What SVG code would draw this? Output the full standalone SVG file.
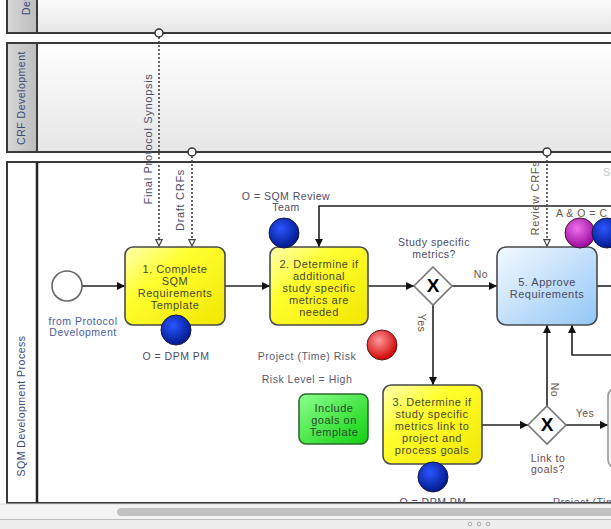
<svg xmlns="http://www.w3.org/2000/svg" width="611" height="529" viewBox="0 0 611 529">
<defs>
<linearGradient id="laneBg" x1="0" y1="0" x2="0" y2="1"><stop offset="0" stop-color="#ffffff"/><stop offset="1" stop-color="#e6e6e6"/></linearGradient>
<linearGradient id="hdrBg" x1="0" y1="0" x2="1" y2="0"><stop offset="0" stop-color="#d6d6d6"/><stop offset="1" stop-color="#bdbdbd"/></linearGradient>
<linearGradient id="yellow" x1="0" y1="0" x2="1" y2="1"><stop offset="0" stop-color="#ffffb0"/><stop offset="0.35" stop-color="#ffff30"/><stop offset="1" stop-color="#f2e600"/></linearGradient>
<linearGradient id="blueTask" x1="0" y1="0" x2="1" y2="1"><stop offset="0" stop-color="#f4faff"/><stop offset="1" stop-color="#92c6f6"/></linearGradient>
<linearGradient id="green" x1="0" y1="0" x2="1" y2="1"><stop offset="0" stop-color="#8cff8c"/><stop offset="1" stop-color="#10d010"/></linearGradient>
<radialGradient id="blueBall" cx="0.4" cy="0.35" r="0.65"><stop offset="0" stop-color="#2a55ff"/><stop offset="1" stop-color="#001a8c"/></radialGradient>
<radialGradient id="redBall" cx="0.4" cy="0.35" r="0.65"><stop offset="0" stop-color="#ff9a9a"/><stop offset="1" stop-color="#d00000"/></radialGradient>
<radialGradient id="purpleBall" cx="0.4" cy="0.35" r="0.65"><stop offset="0" stop-color="#ee70ee"/><stop offset="1" stop-color="#9a0a9a"/></radialGradient>
<marker id="arr" viewBox="0 0 10 10" refX="10" refY="5" markerWidth="9" markerHeight="8" markerUnits="userSpaceOnUse" orient="auto"><path d="M0,0 L10,5 L0,10 z" fill="#111"/></marker>
<marker id="openArr" viewBox="0 0 10 10" refX="9" refY="5" markerWidth="8" markerHeight="8" markerUnits="userSpaceOnUse" orient="auto"><path d="M1,1 L9,5 L1,9 z" fill="#fff" stroke="#444" stroke-width="1.5"/></marker>
<clipPath id="lane3clip"><rect x="0" y="0" width="611" height="503"/></clipPath>
</defs>
<style>
text{font-family:"Liberation Sans",Arial,sans-serif;font-size:10.5px;letter-spacing:0.5px;}
.tk{font-size:11px;fill:#4a4a30;text-anchor:middle;}
.lbl{fill:#4d4d66;text-anchor:middle;}
.blue{fill:#4a5c9e;}
.hdr{fill:#3c4a7a;font-size:10.5px;text-anchor:middle;}
.lane{stroke:#3a3a3a;stroke-width:2;}
.seq{fill:none;stroke:#222;stroke-width:1.6;marker-end:url(#arr);}
.seqn{fill:none;stroke:#222;stroke-width:1.6;}
.msg{fill:none;stroke:#444;stroke-width:1.6;stroke-dasharray:2 2;marker-end:url(#openArr);}
.msgdot{fill:#fff;stroke:#333;stroke-width:1.5;}
.gw{fill:#fff;stroke:#777;stroke-width:1.6;}
.task{stroke:#4a4a4a;stroke-width:1.6;}
</style>
<rect x="0" y="0" width="611" height="529" fill="#ffffff"/>

<g id="lane-protocol">
<rect x="7" y="-5" width="620" height="38" fill="url(#laneBg)" class="lane"/>
<rect x="7" y="-5" width="30" height="38" fill="url(#hdrBg)" class="lane"/>
<text class="hdr" transform="translate(30,15) rotate(-90)" text-anchor="start" style="text-anchor:start">Dev</text>
</g>

<g id="lane-crf">
<rect x="7" y="43" width="620" height="109" fill="url(#laneBg)" class="lane"/>
<rect x="7" y="43" width="30" height="109" fill="url(#hdrBg)" class="lane"/>
<text class="hdr" transform="translate(25,98) rotate(-90)">CRF Development</text>
</g>

<g id="lane-sqm">
<rect x="7" y="162" width="620" height="341" fill="#ffffff" class="lane"/>
<line x1="37" y1="162" x2="37" y2="503" stroke="#222" stroke-width="2.5"/>
<text class="hdr" transform="translate(25,406) rotate(-90)">SQM Development Process</text>
<text x="603" y="176" fill="#c8c8c8" style="font-size:11px">S</text>
</g>

<g id="connectors">
<path class="seq" d="M82,286 L125,286"/>
<path class="seq" d="M225,286 L270,286"/>
<path class="seq" d="M368,286 L414,286"/>
<path class="seq" d="M452,286 L497,286"/>
<path class="seq" d="M611,206 L319,206 L319,247"/>
<path class="seq" d="M433,305 L433,385"/>
<path class="seq" d="M482,425 L528,425"/>
<path class="seq" d="M547,406 L547,325"/>
<path class="seq" d="M611,355 L572,355 L572,325"/>
<path class="seq" d="M566,425 L608,425"/>
<path class="seqn" d="M597,286 L611,286"/>
<path class="msg" d="M159,37 L159,246"/>
<path class="msg" d="M192,156 L192,246"/>
<path class="msg" d="M547,156 L547,246"/>
<circle class="msgdot" cx="159" cy="33" r="4"/>
<circle class="msgdot" cx="192" cy="152" r="4"/>
<circle class="msgdot" cx="547" cy="152" r="4"/>
<text class="lbl" transform="translate(152,139) rotate(-90)" style="font-size:11px;letter-spacing:0.7px">Final Protocol Synopsis</text>
<text class="lbl" transform="translate(184,200) rotate(-90)" style="font-size:11px;letter-spacing:0.7px">Draft CRFs</text>
<text class="lbl" transform="translate(539,198) rotate(-90)" style="font-size:11px;letter-spacing:0.7px;fill:#6a5a4a">Review CRFs</text>
<text class="lbl" x="481" y="278" style="fill:#6a5a4a">No</text>
<text class="lbl" transform="translate(418,323) rotate(90)" style="fill:#6a5a4a">Yes</text>
<text class="lbl" transform="translate(551,390) rotate(90)" style="fill:#6a5a4a">No</text>
<text class="lbl" x="585" y="417" style="fill:#6a5a4a">Yes</text>
</g>

<g id="start">
<circle cx="67" cy="286" r="15" fill="#fff" stroke="#666" stroke-width="1.6"/>
<text class="lbl blue" x="83" y="325" style="fill:#4a5c9e">from Protocol</text>
<text class="lbl blue" x="83" y="336" style="fill:#4a5c9e">Development</text>
</g>

<g id="task1">
<rect x="125" y="247" width="100" height="78" rx="8" fill="url(#yellow)" class="task"/>
<text class="tk" x="175" y="273">1. Complete</text>
<text class="tk" x="175" y="285">SQM</text>
<text class="tk" x="175" y="297">Requirements</text>
<text class="tk" x="175" y="309">Template</text>
<circle cx="176" cy="330" r="15" fill="url(#blueBall)" stroke="#1a1a40" stroke-width="1"/>
<text class="lbl" x="176" y="360">O = DPM PM</text>
</g>

<g id="task2">
<rect x="270" y="247" width="98" height="78" rx="8" fill="url(#yellow)" class="task"/>
<text class="tk" x="319" y="268">2. Determine if</text>
<text class="tk" x="319" y="280">additional</text>
<text class="tk" x="319" y="292">study specific</text>
<text class="tk" x="319" y="304">metrics are</text>
<text class="tk" x="319" y="316">needed</text>
<circle cx="284" cy="233" r="15" fill="url(#blueBall)" stroke="#1a1a40" stroke-width="1"/>
<text class="lbl" x="286" y="200">O = SQM Review</text>
<text class="lbl" x="286" y="211">Team</text>
</g>

<g id="gateway1">
<path class="gw" d="M433,267 L452,286 L433,305 L414,286 z"/>
<text x="433" y="292" style="font-size:19px;font-weight:bold;text-anchor:middle;letter-spacing:0" fill="#000">X</text>
<text class="lbl" x="434" y="246">Study specific</text>
<text class="lbl" x="434" y="258">metrics?</text>
</g>

<g id="task5">
<rect x="497" y="247" width="100" height="78" rx="9" fill="url(#blueTask)" class="task"/>
<text class="tk" x="547" y="286" style="fill:#4a4a60">5. Approve</text>
<text class="tk" x="547" y="298" style="fill:#4a4a60">Requirements</text>
<circle cx="580" cy="233" r="15" fill="url(#purpleBall)" stroke="#3a1a3a" stroke-width="1"/>
<circle cx="607" cy="233" r="15" fill="url(#blueBall)" stroke="#1a1a40" stroke-width="1"/>
<text x="556" y="217" fill="#6a5a4a">A &amp; O = C</text>
</g>

<g id="risk">
<circle cx="382" cy="345" r="15" fill="url(#redBall)" stroke="#5a1a1a" stroke-width="1"/>
<text class="lbl" x="307" y="360" style="fill:#5a5a70">Project (Time) Risk</text>
<text class="lbl" x="307" y="383" style="fill:#5a5a70">Risk Level = High</text>
</g>

<g id="goals-note">
<rect x="299" y="394" width="69" height="50" rx="7" fill="url(#green)" stroke="#2f6a2f" stroke-width="1.6"/>
<text class="tk" x="334" y="412" style="fill:#2a4a2a">Include</text>
<text class="tk" x="334" y="424" style="fill:#2a4a2a">goals on</text>
<text class="tk" x="334" y="436" style="fill:#2a4a2a">Template</text>
</g>

<g id="task3" clip-path="url(#lane3clip)">
<rect x="383" y="385" width="99" height="79" rx="8" fill="url(#yellow)" class="task"/>
<text class="tk" x="432" y="406">3. Determine if</text>
<text class="tk" x="432" y="418">study specific</text>
<text class="tk" x="432" y="430">metrics link to</text>
<text class="tk" x="432" y="442">project and</text>
<text class="tk" x="432" y="454">process goals</text>
<circle cx="433" cy="477" r="15" fill="url(#blueBall)" stroke="#1a1a40" stroke-width="1"/>
<text class="lbl" x="433" y="506">O = DPM PM</text>
</g>

<g id="gateway2">
<path class="gw" d="M547,406 L566,425 L547,444 L528,425 z"/>
<text x="547" y="431" style="font-size:19px;font-weight:bold;text-anchor:middle;letter-spacing:0" fill="#000">X</text>
<text class="lbl" x="548" y="462" style="fill:#6a4a5a">Link to</text>
<text class="lbl" x="548" y="473" style="fill:#6a4a5a">goals?</text>
</g>

<g id="task-next" clip-path="url(#lane3clip)">
<rect x="608" y="388" width="100" height="80" rx="8" fill="#f4f4f4" stroke="#999" stroke-width="1.6"/>
<text x="553" y="506" fill="#5a5a70">Project (Time) Risk</text>
</g>

<g id="scrollbar">
<rect x="0" y="504" width="611" height="15" fill="#f4f4f4"/>
<line x1="0" y1="504" x2="611" y2="504" stroke="#dadada" stroke-width="1"/>
<rect x="117" y="508" width="510" height="8" rx="4" fill="#c2c2c2"/>
<line x1="0" y1="519.5" x2="611" y2="519.5" stroke="#bdbdbd" stroke-width="1"/>
<rect x="0" y="520" width="611" height="9" fill="#ededed"/>
<circle cx="470" cy="524" r="1.8" fill="none" stroke="#999" stroke-width="0.8"/>
<circle cx="479" cy="524" r="1.8" fill="none" stroke="#999" stroke-width="0.8"/>
<circle cx="488" cy="524" r="1.8" fill="none" stroke="#999" stroke-width="0.8"/>
</g>
</svg>
